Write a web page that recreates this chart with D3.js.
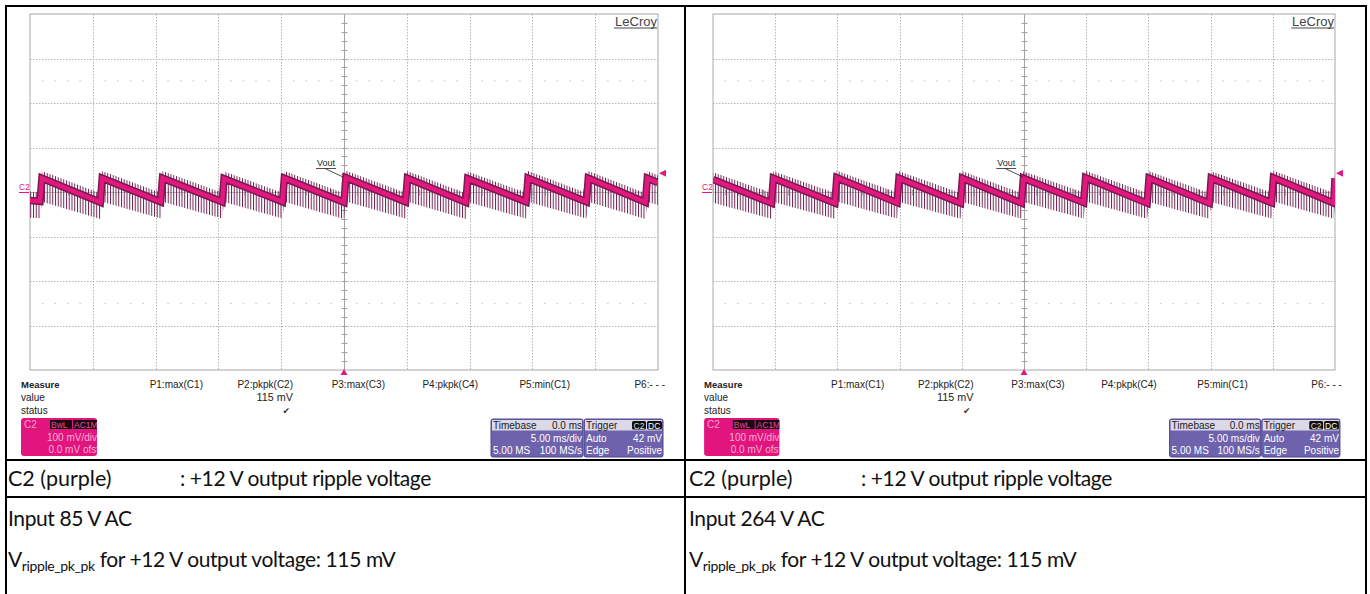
<!DOCTYPE html>
<html><head><meta charset="utf-8">
<script src="https://cdn.jsdelivr.net/npm/d3@7/dist/d3.min.js"></script>
<style>body{margin:0;background:#fff}svg{display:block}</style>
</head><body>
<script>
// ---------------- DATA ----------------
const timeDivsMs = [-25,-20,-15,-10,-5,0,5,10,15,20,25];
const voltDivsMv = [-400,-300,-200,-100,0,100,200,300,400];
const riseMs = 0.15;

// Left capture (85 V AC)
const leftEdgesMs = [-24.2,-19.4,-14.6,-9.7,-4.9,0.0,4.9,9.7,14.5,19.3,24.0];
const leftHighMv  = [31,31,31,30,31,32,31,30,31,31,31];
const leftLowMv   = [-21,-23,-22,-22,-22,-23,-22,-23,-22,-22,-23];
const leftStartMv = -19;
const leftEndMv   = 21;

// Right capture (264 V AC)
const rightEdgesMs = [-20.3,-15.2,-10.2,-5.1,-0.2,4.8,9.9,14.9,19.9,24.9];
const rightHighMv  = [31,32,31,31,31,32,31,31,32,31];
const rightLowMv   = [-25,-25,-24,-25,-25,-24,-25,-25,-24,-25];
const rightStartMv = 28;
const rightEndMv   = 31;

// spike envelope (absolute mV) at the top and at the bottom of the sawtooth
const spikeTopMv    = [-2, 47];   // [at band low, at band high]
const spikeBottomMv = [-60, -22];

const measureHeaders = ["P1:max(C1)","P2:pkpk(C2)","P3:max(C3)","P4:pkpk(C4)","P5:min(C1)","P6:- - -"];
const measureValues  = ["","115 mV","","","",""];
const measureStatus  = ["","\u2714","","","",""];
const triggerLevelMv = 42;

const captionRow1 = ["C2 (purple)", ": +12 V output ripple voltage"];
const inputLabels = ["Input 85 V AC","Input 264 V AC"];
const rippleText  = ["V","ripple_pk_pk"," for +12 V output voltage: 115 mV"];

// ---------------- DRAW ----------------
const svg = d3.select("body").append("svg").attr("width",1370).attr("height",594);
const defs = svg.append("defs");
const pat = defs.append("pattern").attr("id","spk").attr("patternUnits","userSpaceOnUse")
  .attr("width",2.75).attr("height",20);
pat.append("rect").attr("x",0).attr("y",0).attr("width",1).attr("height",20).attr("fill","#6e2453");

const SANS = "'Liberation Sans', Arial, sans-serif";

const panels = [
  {ox:0, sx:1, edges:leftEdgesMs, high:leftHighMv, low:leftLowMv, start:leftStartMv, end:leftEndMv},
  {ox:683.3, sx:0.9904, edges:rightEdgesMs, high:rightHighMv, low:rightLowMv, start:rightStartMv, end:rightEndMv}
];

panels.forEach((p,pi)=>{
  const px = v => p.ox + v*p.sx;
  const g = svg.append("g");
  const x = d3.scaleLinear().domain([timeDivsMs[0], timeDivsMs[timeDivsMs.length-1]]).range([px(30), px(658)]);
  const y = d3.scaleLinear().domain([voltDivsMv[0], voltDivsMv[voltDivsMv.length-1]]).range([370, 14]);

  // faint marker dots rows
  [250,-250].forEach(mv=>{
    g.append("g").selectAll("rect").data(d3.range(-24,25,1).filter(t=>t%5!==0)).join("rect")
      .attr("x",t=>x(t)-1).attr("y",y(mv)-0.5).attr("width",2).attr("height",1.2).attr("fill","#d6d6d6");
  });

  // dotted grid
  g.append("g").selectAll("line").data(timeDivsMs.slice(1,-1).filter(t=>t!==0)).join("line")
    .attr("x1",t=>Math.round(x(t))+0.5).attr("x2",t=>Math.round(x(t))+0.5).attr("y1",y(400)).attr("y2",y(-400))
    .attr("stroke","#b5b5b5").attr("stroke-dasharray","1.5,1.5");
  g.append("g").selectAll("line").data(voltDivsMv.slice(1,-1).filter(v=>v!==0)).join("line")
    .attr("y1",v=>Math.round(y(v))+0.5).attr("y2",v=>Math.round(y(v))+0.5).attr("x1",x(-25)).attr("x2",x(25))
    .attr("stroke","#b5b5b5").attr("stroke-dasharray","1.5,1.5");
  // center axes
  const cx = Math.round(x(0))+0.5, cy = Math.round(y(0))+0.5;
  g.append("line").attr("x1",cx).attr("x2",cx).attr("y1",y(400)).attr("y2",y(-400)).attr("stroke","#a3a3a3");
  g.append("line").attr("y1",cy).attr("y2",cy).attr("x1",x(-25)).attr("x2",x(25)).attr("stroke","#bdbdbd");
  g.append("g").selectAll("line").data(d3.range(-380,400,20)).join("line")
    .attr("x1",cx-3).attr("x2",cx+3).attr("y1",v=>Math.round(y(v))+0.5).attr("y2",v=>Math.round(y(v))+0.5).attr("stroke","#a3a3a3");
  g.append("g").selectAll("line").data(d3.range(-24,25,1)).join("line")
    .attr("y1",cy-3).attr("y2",cy+3).attr("x1",t=>Math.round(x(t))+0.5).attr("x2",t=>Math.round(x(t))+0.5).attr("stroke","#b0b0b0");
  // frame
  g.append("rect").attr("x",x(-25)).attr("y",y(400)).attr("width",x(25)-x(-25)).attr("height",y(-400)-y(400))
    .attr("fill","none").attr("stroke","#a9a9a9");

  // LeCroy logo
  const lx = px(657);
  g.append("text").attr("x",lx).attr("y",26).attr("text-anchor","end").attr("font-family",SANS)
    .attr("font-size",13).attr("fill","#444").text("LeCroy");
  g.append("line").attr("x1",px(614)).attr("x2",lx).attr("y1",28).attr("y2",28).attr("stroke","#444");

  // trace
  const clipId = "clip"+pi;
  defs.append("clipPath").attr("id",clipId).append("rect")
    .attr("x",x(-25)).attr("y",y(400)).attr("width",x(25)-x(-25)).attr("height",y(-400)-y(400));
  const pts = [[-25,p.start]];
  p.edges.forEach((e,i)=>{ pts.push([e,p.low[i]]); pts.push([Math.min(e+riseMs,25),p.high[i]]); });
  pts.push([25,p.end]);
  const lowAvg = d3.mean(p.low), highAvg = d3.mean(p.high);
  const topS = d3.scaleLinear().domain([lowAvg,highAvg]).range(spikeTopMv);
  const botS = d3.scaleLinear().domain([lowAvg,highAvg]).range(spikeBottomMv);
  const env = pts.map(d=>[d[0],topS(d[1])]).concat(pts.slice().reverse().map(d=>[d[0],botS(d[1])]));
  const tg = g.append("g").attr("clip-path",`url(#${clipId})`);
  tg.append("path").attr("d", d3.line().x(d=>x(d[0])).y(d=>y(d[1]))(env)+"Z").attr("fill","url(#spk)");
  const line = d3.line().x(d=>x(d[0])).y(d=>y(d[1]));
  tg.append("path").attr("d",line(pts)).attr("fill","none").attr("stroke","#7a1a52").attr("stroke-width",7.5);
  tg.append("path").attr("d",line(pts)).attr("fill","none").attr("stroke","#e3187f").attr("stroke-width",4.5);

  // C2 ground marker
  g.append("text").attr("x",px(19)).attr("y",190).attr("font-family",SANS).attr("font-size",8.5).attr("fill","#e0187f").text("C2");
  g.append("line").attr("x1",px(19)).attr("x2",px(29)).attr("y1",y(0)+0.5).attr("y2",y(0)+0.5).attr("stroke","#e0187f");

  // Vout label
  g.append("text").attr("x",px(317)).attr("y",166).attr("font-family",SANS).attr("font-size",9).attr("fill","#222").text("Vout");
  g.append("line").attr("x1",px(316)).attr("x2",px(336)).attr("y1",168.5).attr("y2",168.5).attr("stroke","#222").attr("stroke-width",0.8);
  g.append("line").attr("x1",px(325)).attr("x2",px(343)).attr("y1",168.5).attr("y2",177).attr("stroke","#222").attr("stroke-width",0.8);

  // trigger markers
  const tx = x(0);
  g.append("path").attr("d",`M${tx},369 L${tx-3.5},375 L${tx+3.5},375Z`).attr("fill","#e0187f");
  const ty = y(triggerLevelMv);
  g.append("path").attr("d",`M${px(659)},${ty} L${px(666)},${ty-3.5} L${px(666)},${ty+3.5}Z`).attr("fill","#e0187f");

  // Measure table
  const mt = g.append("g").attr("font-family",SANS).attr("font-size",10).attr("fill","#222");
  mt.append("text").attr("x",px(21)).attr("y",388).attr("font-weight","bold").attr("font-size",9.5).text("Measure");
  mt.append("text").attr("x",px(21)).attr("y",401).text("value");
  mt.append("text").attr("x",px(21)).attr("y",414).text("status");
  const colR = [203,293,385,478,570,665];
  mt.selectAll("text.h").data(measureHeaders).join("text").attr("class","h")
    .attr("x",(d,i)=>px(colR[i])).attr("y",388).attr("text-anchor","end").text(d=>d);
  mt.selectAll("text.v").data(measureValues).join("text").attr("class","v")
    .attr("x",(d,i)=>px(colR[i])).attr("y",401).attr("text-anchor","end").attr("font-size",10.8).text(d=>d);
  mt.selectAll("text.s").data(measureStatus).join("text").attr("class","s")
    .attr("x",(d,i)=>px(colR[i]-3)).attr("y",414).attr("text-anchor","end").attr("font-family","DejaVu Sans").attr("font-size",9).attr("fill","#333").text(d=>d);

  // C2 channel box
  const cb = g.append("g").attr("font-family",SANS);
  const cbId = "cbclip"+pi;
  defs.append("clipPath").attr("id",cbId).append("rect").attr("x",px(21)).attr("y",418).attr("width",76*p.sx).attr("height",38).attr("rx",3);
  cb.append("rect").attr("x",px(21)).attr("y",418).attr("width",76*p.sx).attr("height",38).attr("rx",3).attr("fill","#e2147d");
  const cbi = cb.append("g").attr("clip-path",`url(#${cbId})`);
  cbi.append("text").attr("x",px(24)).attr("y",428).attr("font-size",10).attr("fill","#f8a2cf").text("C2");
  cbi.append("rect").attr("x",px(50)).attr("y",420).attr("width",22*p.sx).attr("height",9).attr("fill","#1a0b12");
  cbi.append("rect").attr("x",px(73)).attr("y",420).attr("width",26*p.sx).attr("height",9).attr("fill","#1a0b12");
  cbi.append("text").attr("x",px(51)).attr("y",427.8).attr("font-size",8.5).attr("fill","#e9489b").text("BwL");
  cbi.append("text").attr("x",px(74)).attr("y",427.8).attr("font-size",8.5).attr("fill","#e9489b").text("AC1M");
  cbi.append("text").attr("x",px(97)).attr("y",441).attr("text-anchor","end").attr("font-size",10).attr("fill","#fab0d6").text("100 mV/div");
  cbi.append("text").attr("x",px(99)).attr("y",453).attr("text-anchor","end").attr("font-size",10).attr("fill","#fab0d6").text("0.0 mV ofst");

  // Timebase box
  const tb = g.append("g").attr("font-family",SANS).attr("font-size",10);
  function box(x0,x1){
    tb.append("rect").attr("x",px(x0)).attr("y",419).attr("width",(x1-x0)*p.sx).attr("height",38).attr("rx",2)
      .attr("fill","#6d62ab").attr("stroke","#4f4590");
    tb.append("rect").attr("x",px(x0)+1).attr("y",420).attr("width",(x1-x0)*p.sx-2).attr("height",10.5).attr("fill","#dbd8e8");
  }
  box(491,583); box(584,663);
  const tR = px(582), gR = px(662);
  tb.append("text").attr("x",px(493)).attr("y",429).attr("fill","#222").text("Timebase");
  tb.append("text").attr("x",tR).attr("y",429).attr("text-anchor","end").attr("fill","#222").text("0.0 ms");
  tb.append("text").attr("x",tR).attr("y",441.5).attr("text-anchor","end").attr("fill","#fff").text("5.00 ms/div");
  tb.append("text").attr("x",px(493)).attr("y",453.5).attr("fill","#fff").text("5.00 MS");
  tb.append("text").attr("x",tR).attr("y",453.5).attr("text-anchor","end").attr("fill","#fff").text("100 MS/s");
  tb.append("text").attr("x",px(586)).attr("y",429).attr("fill","#222").text("Trigger");
  tb.append("rect").attr("x",px(632)).attr("y",421).attr("width",14*p.sx).attr("height",8.5).attr("rx",1.5).attr("fill","#111");
  tb.append("rect").attr("x",px(647)).attr("y",421).attr("width",15*p.sx).attr("height",8.5).attr("rx",1.5).attr("fill","#111");
  tb.append("text").attr("x",px(633.5)).attr("y",428.5).attr("font-size",8.5).attr("fill","#ddd").text("C2");
  tb.append("text").attr("x",px(648)).attr("y",428.5).attr("font-size",8.5).attr("fill","#fff").text("DC");
  tb.append("text").attr("x",px(586)).attr("y",441.5).attr("fill","#fff").text("Auto");
  tb.append("text").attr("x",gR).attr("y",441.5).attr("text-anchor","end").attr("fill","#fff").text("42 mV");
  tb.append("text").attr("x",px(586)).attr("y",453.5).attr("fill","#fff").text("Edge");
  tb.append("text").attr("x",gR).attr("y",453.5).attr("text-anchor","end").attr("fill","#fff").text("Positive");

  // captions
  const cx0 = pi===0 ? 8 : 689;
  const FONT = "Lato, 'Noto Sans', sans-serif";
  const cg = svg.append("g").attr("font-family",FONT).attr("fill","#111").attr("letter-spacing",-0.4);
  cg.append("text").attr("x",cx0).attr("y",486).attr("font-size",21.5).attr("letter-spacing",0).text(captionRow1[0]);
  cg.append("text").attr("x",cx0+172).attr("y",486).attr("font-size",21).text(captionRow1[1]);
  cg.append("text").attr("x",cx0).attr("y",526).attr("font-size",21).text(inputLabels[pi]);
  const rt = cg.append("text").attr("x",cx0).attr("y",567).attr("font-size",21);
  rt.append("tspan").text(rippleText[0]);
  rt.append("tspan").attr("font-size",14).attr("dy",4).text(rippleText[1]);
  rt.append("tspan").attr("dy",-4).text(rippleText[2]);
});

// table borders
const tl = svg.append("g").attr("stroke","#000").attr("stroke-width",2);
[[5,6,1367,6],[5,460,1367,460],[5,497,1367,497]].forEach(d=>tl.append("line").attr("x1",d[0]).attr("y1",d[1]).attr("x2",d[2]).attr("y2",d[3]));
[6,685,1366].forEach(xv=>tl.append("line").attr("x1",xv).attr("x2",xv).attr("y1",5).attr("y2",594));
</script>
</body></html>
